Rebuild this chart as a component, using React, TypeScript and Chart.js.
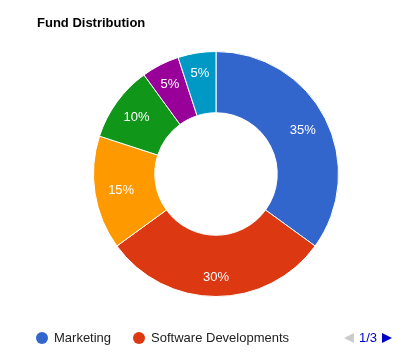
import React, { useEffect, useRef } from "react";
import { Chart, registerables } from "chart.js";

Chart.register(...registerables);

const title = "Fund Distribution";
const categories = [
  "Marketing",
  "Software Developments",
  "Hardware",
  "Research",
  "Training",
  "Administration",
];
const values = [35, 30, 15, 10, 5, 5];
const colors = ["#3366cc", "#dc3912", "#ff9900", "#109618", "#990099", "#0099c6"];
const legendPageSize = 2;
const legendPage = 1;

const FONT = "Arial, 'Liberation Sans', sans-serif";

const sliceLabels = {
  id: "sliceLabels",
  afterDatasetsDraw(chart: any) {
    const ctx = chart.ctx;
    const meta = chart.getDatasetMeta(0);
    const total = values.reduce((a, b) => a + b, 0);
    ctx.save();
    ctx.fillStyle = "#ffffff";
    ctx.font = `13px ${FONT}`;
    ctx.textAlign = "center";
    ctx.textBaseline = "middle";
    meta.data.forEach((arc: any, i: number) => {
      const { startAngle, endAngle, innerRadius, outerRadius, x, y } = arc.getProps(
        ["startAngle", "endAngle", "innerRadius", "outerRadius", "x", "y"],
        true
      );
      const mid = (startAngle + endAngle) / 2;
      const s = Math.sin(mid);
      // text box pushed outward a bit more where the slice centre is near vertical
      const r = (innerRadius + outerRadius) / 2 + 4 + 7 * s * s;
      const pct = Math.round((values[i] / total) * 100) + "%";
      ctx.fillText(pct, x + Math.cos(mid) * r, y + Math.sin(mid) * r + 1);
    });
    ctx.restore();
  },
};

export default function App() {
  const ref = useRef<HTMLCanvasElement | null>(null);

  useEffect(() => {
    document.body.style.margin = "0";
    const chart = new Chart(ref.current as HTMLCanvasElement, {
      type: "doughnut",
      data: {
        labels: categories,
        datasets: [
          {
            data: values,
            backgroundColor: colors,
            borderColor: "#ffffff",
            borderWidth: 1,
          },
        ],
      },
      options: {
        responsive: false,
        animation: false,
        devicePixelRatio: 1,
        cutout: "50%",
        layout: { padding: { left: 93, right: 78, top: 51, bottom: 57 } },
        plugins: {
          legend: { display: false },
          tooltip: { enabled: false },
          title: { display: false },
        },
      },
      plugins: [sliceLabels],
    });
    return () => chart.destroy();
  }, []);

  const start = (legendPage - 1) * legendPageSize;
  const shown = categories.slice(start, start + legendPageSize);
  const pages = Math.ceil(categories.length / legendPageSize);

  return (
    <div
      style={{
        position: "fixed",
        left: 0,
        top: 0,
        width: 417,
        height: 354,
        background: "#fff",
        fontFamily: FONT,
        overflow: "hidden",
      }}
    >
      <canvas
        ref={ref}
        width={417}
        height={354}
        style={{ position: "absolute", left: 0, top: 0, width: 417, height: 354 }}
      />
      <div
        style={{
          position: "absolute",
          left: 37,
          top: 16,
          fontSize: 13,
          fontWeight: "bold",
          lineHeight: "13px",
          color: "#000",
          whiteSpace: "nowrap",
        }}
      >
        {title}
      </div>
      <div
        style={{
          position: "absolute",
          left: 36,
          top: 331,
          height: 13,
          display: "flex",
          alignItems: "center",
          fontSize: 13,
          lineHeight: "13px",
          color: "#222",
          whiteSpace: "nowrap",
        }}
      >
        {shown.map((c, i) => (
          <div
            key={c}
            style={{ display: "flex", alignItems: "center", marginRight: 22 }}
          >
            <span
              style={{
                display: "inline-block",
                width: 12,
                height: 12,
                borderRadius: 6,
                background: colors[start + i],
                marginRight: 6,
              }}
            />
            <span>{c}</span>
          </div>
        ))}
      </div>
      <div
        style={{
          position: "absolute",
          left: 344,
          top: 331,
          height: 13,
          display: "flex",
          alignItems: "center",
          fontSize: 13,
          lineHeight: "13px",
          color: "#0000cc",
          whiteSpace: "nowrap",
        }}
      >
        <span
          style={{
            display: "inline-block",
            width: 0,
            height: 0,
            borderTop: "5px solid transparent",
            borderBottom: "5px solid transparent",
            borderRight: "10px solid #cccccc",
            marginRight: 5,
          }}
        />
        <span>{`${legendPage}/${pages}`}</span>
        <span
          style={{
            display: "inline-block",
            width: 0,
            height: 0,
            borderTop: "5px solid transparent",
            borderBottom: "5px solid transparent",
            borderLeft: "10px solid #0000cc",
            marginLeft: 5,
          }}
        />
      </div>
    </div>
  );
}
